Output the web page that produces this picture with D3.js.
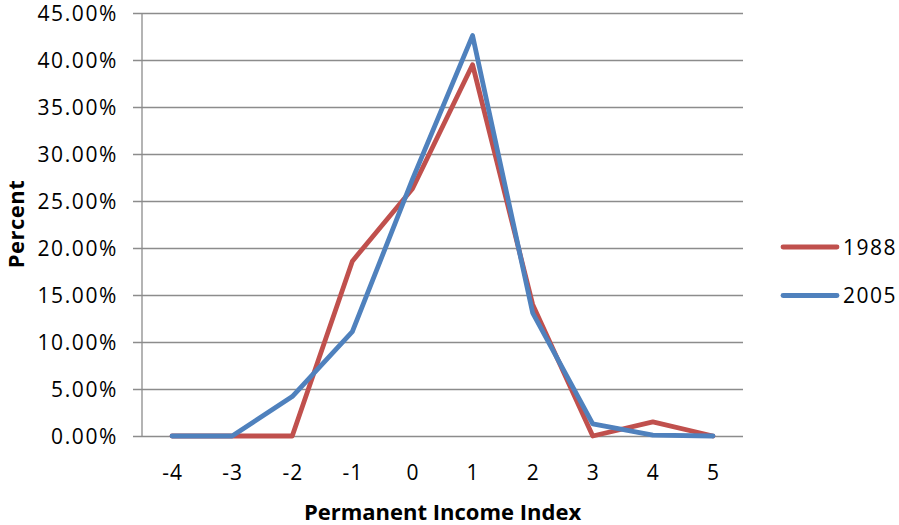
<!DOCTYPE html>
<html>
<head>
<meta charset="utf-8">
<script src="https://cdn.jsdelivr.net/npm/d3@7"></script>
<style>
  html, body { margin: 0; padding: 0; background: #fff; }
  svg { display: block; }
  text { font-family: "Open Sans", "Noto Sans", sans-serif; fill: #000; }
</style>
</head>
<body>
<svg id="chart" width="899" height="525"></svg>
<script>
// Permanent income index categories
const categories = ["-4", "-3", "-2", "-1", "0", "1", "2", "3", "4", "5"];

// Share of population in each category
const values1988 = [0.000, 0.000, 0.000, 0.186, 0.263, 0.395, 0.140, 0.000, 0.015, 0.000];
const values2005 = [0.000, 0.000, 0.042, 0.111, 0.273, 0.426, 0.131, 0.013, 0.001, 0.000];

const seriesNames = ["1988", "2005"];
const seriesColors = ["#C0504D", "#4F81BD"];

const yTicks = [0, 0.05, 0.10, 0.15, 0.20, 0.25, 0.30, 0.35, 0.40, 0.45];

const series = [
  { name: seriesNames[0], color: seriesColors[0], values: values1988 },
  { name: seriesNames[1], color: seriesColors[1], values: values2005 }
];

const plot = { left: 142, right: 743, top: 13, bottom: 436 };

const svg = d3.select("#chart");

const x = d3.scalePoint()
  .domain(categories)
  .range([plot.left, plot.right])
  .padding(0.5);

const y = d3.scaleLinear()
  .domain([0, 0.45])
  .range([plot.bottom, plot.top]);

// Horizontal gridlines with short ticks left of the axis
const yAxis = d3.axisLeft(y)
  .tickValues(yTicks)
  .tickFormat(d3.format(".2%"))
  .tickSize(-(plot.right - plot.left))
  .tickSizeOuter(0)
  .tickPadding(24);

const gy = svg.append("g")
  .attr("transform", `translate(${plot.left},0)`)
  .call(yAxis);
gy.select(".domain").remove();
gy.selectAll(".tick line")
  .attr("x1", -9)
  .attr("stroke", "#8c8c8c")
  .attr("stroke-width", 1.3);
gy.selectAll(".tick text")
  .attr("font-size", 21)
  .attr("letter-spacing", 1.6)
  .attr("dy", "0.36em")
  .style("font-family", "'Open Sans', sans-serif");

// Vertical axis line
svg.append("line")
  .attr("x1", plot.left).attr("x2", plot.left)
  .attr("y1", plot.top).attr("y2", plot.bottom)
  .attr("stroke", "#8c8c8c")
  .attr("stroke-width", 1.3);

// Category axis
const xAxis = d3.axisBottom(x).tickSize(0).tickPadding(29);
const gx = svg.append("g")
  .attr("transform", `translate(0,${plot.bottom})`)
  .call(xAxis);
gx.select(".domain").remove();
gx.selectAll(".tick text")
  .attr("font-size", 21)
  .attr("letter-spacing", 1)
  .style("font-family", "'Open Sans', sans-serif");

// Lines
const line = d3.line()
  .x((d, i) => x(categories[i]))
  .y(d => y(d));

svg.append("g")
  .selectAll("path")
  .data(series)
  .join("path")
  .attr("d", d => line(d.values))
  .attr("fill", "none")
  .attr("stroke", d => d.color)
  .attr("stroke-width", 4.8)
  .attr("stroke-linejoin", "round")
  .attr("stroke-linecap", "round");

// Axis titles
svg.append("text")
  .attr("x", (plot.left + plot.right) / 2)
  .attr("y", 520)
  .attr("text-anchor", "middle")
  .attr("font-size", 22)
  .attr("font-weight", "bold")
  .text("Permanent Income Index");

svg.append("text")
  .attr("transform", "translate(23.5,224) rotate(-90)")
  .attr("text-anchor", "middle")
  .attr("font-size", 22)
  .attr("font-weight", "bold")
  .attr("letter-spacing", 0.5)
  .text("Percent");

// Legend
const legend = svg.append("g")
  .selectAll("g")
  .data(series)
  .join("g")
  .attr("transform", (d, i) => `translate(783,${247 + i * 48.5})`);

legend.append("line")
  .attr("x1", 0).attr("x2", 54)
  .attr("y1", 0).attr("y2", 0)
  .attr("stroke", d => d.color)
  .attr("stroke-width", 4.8)
  .attr("stroke-linecap", "round");

legend.append("text")
  .attr("x", 60)
  .attr("dy", "0.36em")
  .attr("font-size", 21)
  .attr("letter-spacing", 1.5)
  .text(d => d.name);
</script>
</body>
</html>
